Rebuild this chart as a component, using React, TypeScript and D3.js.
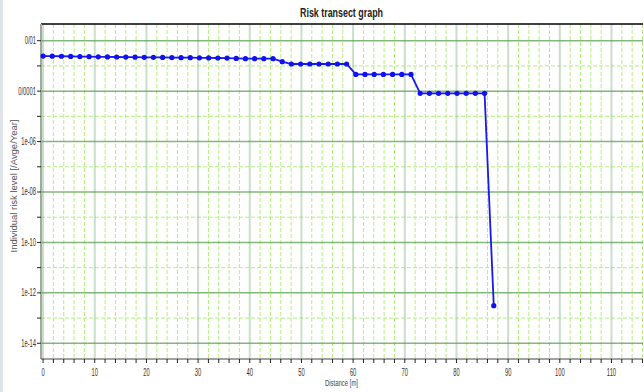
import React from "react";
import * as d3 from "d3";

const distances = [
  0, 1.78, 3.56, 5.34, 7.12, 8.9, 10.68, 12.46, 14.24, 16.02,
  17.8, 19.58, 21.36, 23.14, 24.92, 26.7, 28.48, 30.26, 32.04, 33.82,
  35.6, 37.38, 39.16, 40.94, 42.72, 44.5, 46.28, 48.06, 49.84, 51.62,
  53.4, 55.18, 56.96, 58.74, 60.52, 62.3, 64.08, 65.86, 67.64, 69.42,
  71.2, 72.98, 74.76, 76.54, 78.32, 80.1, 81.88, 83.66, 85.44, 87.22,
];
const riskValues = [
  2.45e-3, 2.44e-3, 2.42e-3, 2.38e-3, 2.35e-3, 2.32e-3, 2.3e-3, 2.28e-3, 2.26e-3, 2.24e-3,
  2.22e-3, 2.2e-3, 2.19e-3, 2.17e-3, 2.15e-3, 2.13e-3, 2.12e-3, 2.1e-3, 2.08e-3, 2.06e-3,
  2.04e-3, 1.98e-3, 1.93e-3, 1.93e-3, 1.93e-3, 1.93e-3, 1.47e-3, 1.19e-3, 1.19e-3, 1.19e-3,
  1.19e-3, 1.19e-3, 1.19e-3, 1.19e-3, 4.6e-4, 4.6e-4, 4.6e-4, 4.6e-4, 4.6e-4, 4.6e-4,
  4.6e-4, 8.2e-5, 8.2e-5, 8.2e-5, 8.2e-5, 8.2e-5, 8.2e-5, 8.2e-5, 8.2e-5, 3.1e-13,
];
const xTickLabels = ["0", "10", "20", "30", "40", "50", "60", "70", "80", "90", "100", "110"];
const xTickValues = [0, 10, 20, 30, 40, 50, 60, 70, 80, 90, 100, 110];
const yTickValues = [1e-2, 1e-4, 1e-6, 1e-8, 1e-10, 1e-12, 1e-14];
const yTickLabels = ["0/01", "0/0001", "1e-06", "1e-08", "1e-10", "1e-12", "1e-14"];
const yMinorValues = [1e-3, 1e-5, 1e-7, 1e-9, 1e-11, 1e-13];
const title = "Risk transect graph";
const xTitle = "Distance [m]";
const yTitle = "Individual risk level [/Avge/Year]";

const W = 644;
const H = 392;
const L = 41;
const R = 643;
const T = 24;
const B = 359;

export default function App() {
  const x = d3.scaleLinear().domain([-0.4, 116.1]).range([L, R]);
  const y = d3.scaleLog().domain([Math.pow(10, -14.623), Math.pow(10, -1.338)]).range([B, T]);

  const minorX = d3.range(0, 117, 2).filter((v) => v % 10 !== 0);
  const allXTicks = d3.range(0, 117, 2);
  const allYTicks = d3.range(-14, -1, 1).map((e) => Math.pow(10, e));

  const pts = distances.map((d, i) => [d, riskValues[i]] as [number, number]);
  const line = d3
    .line<[number, number]>()
    .x((p) => x(p[0]))
    .y((p) => y(p[1]));

  const sx = 0.58;
  const font = "'Liberation Sans', Arial, sans-serif";

  return (
    <div style={{ position: "absolute", left: 0, top: 0 }}>
      <svg width={W} height={H} style={{ display: "block", background: "#fff" }}>
        <rect x={0} y={0} width={W} height={H} fill="#fff" />
        <rect x={0} y={0} width={3} height={H} fill="#dfe3ea" />
        {minorX.map((v) => (
          <line key={"mx" + v} x1={x(v)} x2={x(v)} y1={T} y2={B} stroke="#b4f07c" strokeWidth={1} strokeDasharray="4,2" />
        ))}
        {yMinorValues.map((v) => (
          <line key={"my" + v} x1={L} x2={R} y1={y(v)} y2={y(v)} stroke="#b4f07c" strokeWidth={1} strokeDasharray="4,2" />
        ))}
        {xTickValues.map((v) => (
          <line key={"Mx" + v} x1={x(v)} x2={x(v)} y1={T} y2={B} stroke="rgb(120,175,120)" strokeOpacity={0.4} strokeWidth={2} />
        ))}
        {yTickValues.map((v) => (
          <line key={"My" + v} x1={L} x2={R} y1={y(v)} y2={y(v)} stroke="rgb(90,160,80)" strokeOpacity={0.75} strokeWidth={1.5} />
        ))}
        <line x1={L} x2={R} y1={T} y2={T} stroke="#000" strokeWidth={1.5} />
        <line x1={L} x2={L} y1={T} y2={B} stroke="#a0a8a0" strokeWidth={2} />
        <line x1={L} x2={R} y1={B} y2={B} stroke="#444" strokeWidth={1} />
        {allXTicks.map((v) => (
          <line key={"xt" + v} x1={x(v)} x2={x(v)} y1={B} y2={B + 4} stroke="#222" strokeWidth={1} />
        ))}
        {xTickValues.map((v, i) => (
          <text
            key={"xl" + v}
            transform={`translate(${x(v)},${B + 17}) scale(${sx},1)`}
            textAnchor="middle"
            fontFamily={font}
            fontSize={10}
            fill="#333"
          >
            {xTickLabels[i]}
          </text>
        ))}
        {allYTicks.map((v, i) => (
          <line key={"yt" + i} x1={L - 4} x2={L} y1={y(v)} y2={y(v)} stroke="#222" strokeWidth={1} />
        ))}
        {yTickValues.map((v, i) => (
          <text
            key={"yl" + i}
            transform={`translate(${L - 5},${y(v) + 3.5}) scale(${sx},1)`}
            textAnchor="end"
            fontFamily={font}
            fontSize={10}
            fill="#333"
          >
            {yTickLabels[i]}
          </text>
        ))}
        <path d={line(pts) || ""} fill="none" stroke="#1818f0" strokeWidth={1.8} />
        {pts.map((p, i) => (
          <circle key={"p" + i} cx={x(p[0])} cy={y(p[1])} r={2.6} fill="#1010f0" />
        ))}
        <text x={341.5} y={17} textAnchor="middle" fontFamily={font} fontWeight="bold" fontSize={12.5} fill="#222" textLength={83} lengthAdjust="spacingAndGlyphs">
          {title}
        </text>
        <text x={341.5} y={386} textAnchor="middle" fontFamily={font} fontSize={9} fill="#444" textLength={33} lengthAdjust="spacingAndGlyphs">
          {xTitle}
        </text>
        <text
          transform={`translate(17,186) rotate(-90)`}
          textAnchor="middle"
          fontFamily={font}
          fontSize={9}
          fill="#555"
          textLength={133}
          lengthAdjust="spacingAndGlyphs"
        >
          {yTitle}
        </text>
      </svg>
    </div>
  );
}
